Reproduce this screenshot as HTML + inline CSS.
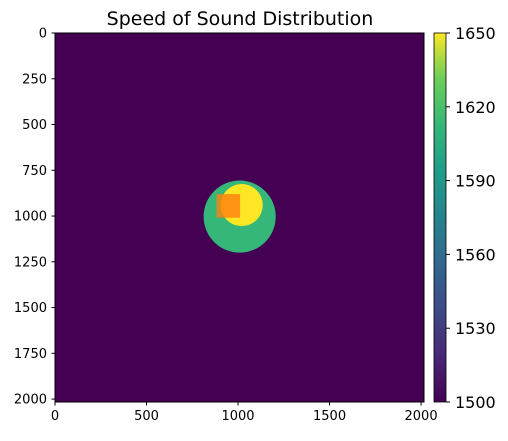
<!DOCTYPE html>
<html><head><meta charset="utf-8"><style>
body{margin:0;background:#fff;width:508px;height:436px;overflow:hidden}
text{font-family:"DejaVu Sans","Liberation Sans",sans-serif;fill:#000}
</style></head><body>
<svg id="chart" width="508" height="436" xmlns="http://www.w3.org/2000/svg">
<defs>
<linearGradient id="vir" x1="0" y1="1" x2="0" y2="0">
<stop offset="0" stop-color="#440154"/><stop offset="0.13" stop-color="#482878"/>
<stop offset="0.25" stop-color="#3e4989"/><stop offset="0.38" stop-color="#31688e"/>
<stop offset="0.5" stop-color="#26828e"/><stop offset="0.63" stop-color="#1f9e89"/>
<stop offset="0.75" stop-color="#35b779"/><stop offset="0.88" stop-color="#6ece58"/>
<stop offset="1" stop-color="#fde725"/></linearGradient>
<clipPath id="clip"><rect x="55" y="33" width="369" height="369"/></clipPath>
</defs>
<text x="240" y="25" font-size="19" text-anchor="middle">Speed of Sound Distribution</text>
<rect x="55" y="33" width="369" height="369" fill="#440154"/>
<g id="shapes" clip-path="url(#clip)"></g>
<rect x="55" y="33" width="369" height="369" fill="none" stroke="#000" stroke-width="1"/>
<g id="axes"></g>
<rect x="434" y="33" width="12" height="369" fill="url(#vir)" stroke="#000" stroke-width="0.8"/>
<g id="cbar"></g>
</svg>
<script>
const xTicks=[0,500,1000,1500,2000];
const yTicks=[0,250,500,750,1000,1250,1500,1750,2000];
const cbTicks=[1500,1530,1560,1590,1620,1650];
const circleCx=[1009,1020];
const circleCy=[1003,940];
const circleR=[197,115];
const circleColor=["#35b779","#fde725"];
const squareX=[883,1011];
const squareY=[880,1009];
const N=2016, X0=55, Y0=33, W=369;
const sx=v=>X0+v*W/N, sy=v=>Y0+v*W/N, sr=v=>v*W/N;
const cbY=v=>402-(v-1500)/150*369;
const NS="http://www.w3.org/2000/svg";
function mk(t,a,p){const e=document.createElementNS(NS,t);for(const k in a)e.setAttribute(k,a[k]);p.appendChild(e);return e;}
const sh=document.getElementById('shapes');
for(let i=0;i<circleR.length;i++){
 const c=mk('circle',{cx:sx(circleCx[i]),cy:sy(circleCy[i]),r:sr(circleR[i]),fill:circleColor[i]},sh);
 
 
}
const sq=mk('rect',{x:sx(squareX[0]),y:sy(squareY[0]),width:sx(squareX[1])-sx(squareX[0]),height:sy(squareY[1])-sy(squareY[0]),fill:"rgba(255,127,14,0.8)"},sh);


const ax=document.getElementById('axes');
xTicks.forEach(v=>{
 mk('line',{x1:sx(v),x2:sx(v),y1:402,y2:405.5,stroke:"#000"},ax);
 const t=mk('text',{x:sx(v),y:420,'font-size':13,'text-anchor':'middle'},ax);t.textContent=v;
 
 
});
yTicks.forEach(v=>{
 mk('line',{x1:51.5,x2:55,y1:sy(v),y2:sy(v),stroke:"#000"},ax);
 const t=mk('text',{x:47,y:sy(v)+4.5,'font-size':13,'text-anchor':'end'},ax);t.textContent=v;
 
 
});
const cb=document.getElementById('cbar');
cbTicks.forEach(v=>{
 mk('line',{x1:446,x2:450,y1:cbY(v),y2:cbY(v),stroke:"#000"},cb);
 const t=mk('text',{x:455,y:cbY(v)+6,'font-size':16},cb);t.textContent=v;
 
 
});
</script>
</body></html>
